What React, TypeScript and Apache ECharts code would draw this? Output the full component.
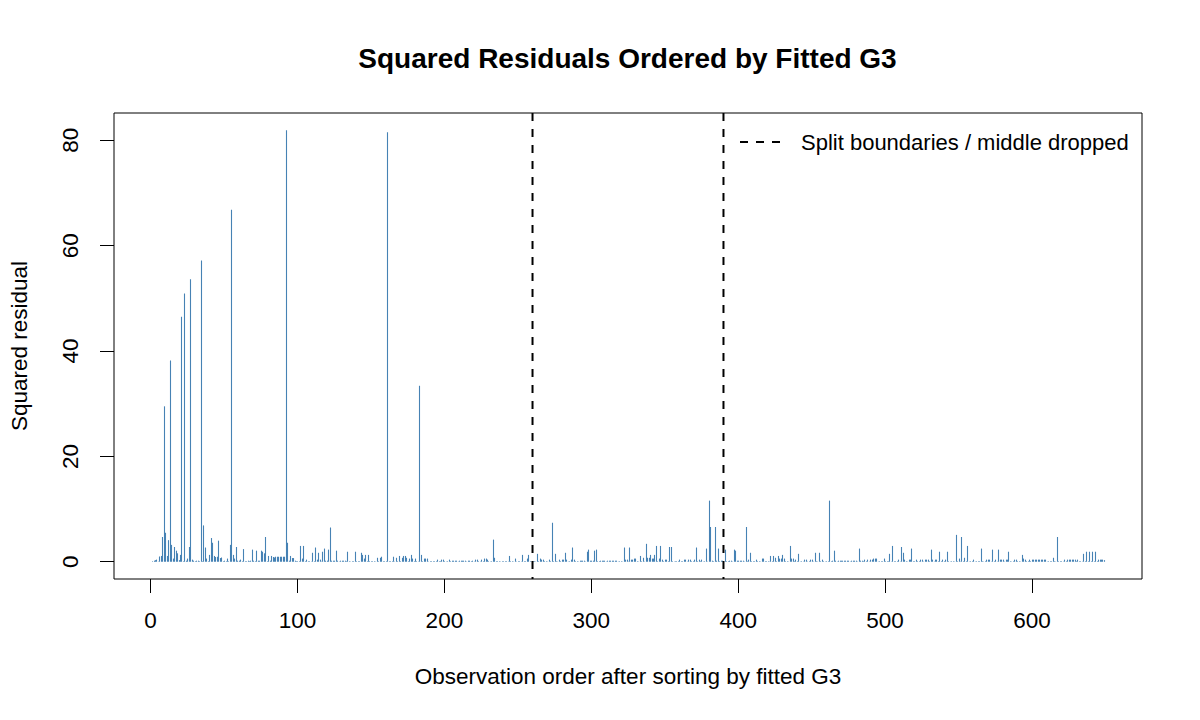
import React, { useEffect, useRef } from "react";
import * as echarts from "echarts";

// Squared residuals, in the order of the fitted G3 values (observations 1..649)
const squaredResiduals: number[] = [
  0.1, 0.2, 0.3, 0.4, 0.05, 1.0, 1.1, 4.7, 29.5, 5.5,
  1.1, 4.1, 38.2, 3.2, 0.6, 2.8, 2.1, 1.6, 0.3, 1.3,
  46.5, 0.1, 50.9, 0.2, 0.6, 2.8, 53.6, 0.4, 0.2, 0.1,
  0.2, 0.2, 0.1, 57.2, 0.1, 6.9, 2.7, 0.6, 0.1, 1.3,
  4.5, 3.6, 1.1, 0.9, 0.95, 4.0, 0.7, 0.8, 0.1, 0.2,
  0.1, 0.6, 0.1, 3.2, 66.8, 1.3, 0.6, 2.8, 0.2, 0.2,
  0.4, 0.1, 2.4, 0.1, 0.1, 0.2, 0.1, 0.2, 2.3, 0.2,
  0.1, 2.1, 0.2, 0.2, 2.1, 1.9, 1.6, 4.7, 0.1, 1.1,
  0.2, 1.1, 0.9, 0.8, 0.95, 0.95, 0.95, 0.95, 0.95, 0.95,
  0.95, 81.9, 3.6, 0.2, 1.1, 0.7, 0.7, 0.2, 0.1, 0.1,
  0.1, 3.0, 0.6, 3.0, 0.1, 0.4, 0.1, 0.1, 0.05, 1.7,
  0.1, 2.7, 0.4, 1.7, 0.4, 0.05, 1.9, 2.5, 0.2, 0.2,
  2.3, 6.5, 0.2, 0.2, 0.2, 2.1, 0.2, 0.05, 0.2, 0.2,
  0.2, 0.2, 0.1, 1.9, 0.1, 0.05, 0.1, 0.1, 1.9, 0.1,
  0.1, 0.1, 1.7, 1.3, 0.6, 1.3, 0.1, 1.3, 0.1, 0.1,
  0.1, 0.1, 0.05, 0.75, 0.1, 0.75, 0.95, 0.1, 0.1, 0.1,
  81.5, 0.1, 0.1, 0.1, 0.95, 0.05, 0.75, 0.1, 1.1, 0.1,
  0.75, 1.1, 1.1, 0.75, 0.1, 0.6, 1.3, 0.6, 0.1, 0.6,
  0.1, 0.05, 33.4, 1.3, 0.1, 0.6, 0.6, 0.6, 0.05, 0.1,
  0.1, 0.1, 0.1, 0.1, 0.4, 0.1, 0.1, 0.4, 0.4, 0.1,
  0.05, 0.1, 0.4, 0.1, 0.2, 0.2, 0.2, 0.2, 0.05, 0.2,
  0.2, 0.2, 0.2, 0.2, 0.05, 0.2, 0.2, 0.1, 0.2, 0.05,
  0.4, 0.4, 0.1, 0.05, 0.4, 0.1, 0.6, 0.6, 0.4, 0.1,
  0.05, 0.1, 4.2, 0.75, 0.1, 0.1, 0.1, 0.05, 0.1, 0.1,
  0.1, 0.1, 0.05, 1.1, 0.1, 0.1, 0.05, 0.6, 0.05, 0.1,
  0.1, 0.05, 1.3, 0.1, 0.1, 0.6, 1.3, 0.1, 0.05, 0.1,
  0.1, 0.05, 1.5, 0.1, 0.6, 0.4, 0.4, 0.1, 0.1, 0.05,
  0.4, 0.1, 7.4, 0.1, 1.5, 0.1, 0.05, 0.4, 0.1, 0.4,
  0.4, 1.7, 0.4, 0.05, 0.1, 0.4, 2.7, 0.4, 0.1, 0.1,
  0.05, 0.2, 0.2, 0.2, 0.2, 0.05, 1.9, 2.3, 0.2, 0.2,
  0.2, 2.1, 2.3, 0.1, 0.1, 0.2, 0.2, 0.2, 0.2, 0.05,
  0.2, 0.2, 0.2, 0.2, 0.2, 0.2, 0.2, 0.05, 0.1, 0.1,
  0.05, 2.7, 0.4, 0.4, 0.05, 2.7, 0.4, 0.4, 0.6, 0.6,
  0.1, 0.05, 1.1, 0.1, 0.75, 0.05, 3.4, 0.75, 0.75, 1.3,
  0.6, 0.6, 1.3, 3.0, 0.1, 0.6, 3.0, 0.4, 0.1, 0.4,
  0.4, 0.1, 2.8, 2.8, 0.1, 0.05, 0.1, 0.1, 0.1, 0.4,
  0.1, 0.1, 0.4, 0.4, 0.05, 0.4, 0.4, 0.1, 0.1, 0.4,
  2.7, 0.1, 0.4, 0.1, 0.4, 0.05, 0.1, 2.5, 0.05, 11.6,
  6.6, 0.2, 0.1, 6.6, 0.2, 2.5, 0.1, 0.2, 0.2, 0.05,
  2.3, 0.1, 0.1, 0.2, 0.2, 0.05, 2.3, 2.1, 0.2, 0.2,
  0.2, 0.2, 0.2, 0.05, 6.6, 0.1, 0.4, 1.7, 0.1, 0.1,
  0.1, 0.4, 0.1, 0.1, 0.05, 0.6, 0.6, 0.1, 0.1, 0.1,
  0.05, 1.1, 0.1, 1.1, 0.75, 0.1, 1.1, 0.6, 0.6, 1.3,
  0.6, 0.1, 0.1, 0.05, 3.0, 0.6, 0.6, 0.1, 0.4, 0.1,
  1.5, 0.05, 0.1, 0.05, 0.4, 0.4, 0.05, 0.1, 0.4, 0.4,
  0.05, 1.7, 0.1, 0.05, 1.7, 0.1, 0.4, 0.1, 0.05, 0.1,
  0.1, 11.6, 0.1, 0.2, 2.1, 0.2, 0.05, 0.2, 0.2, 0.2,
  0.2, 0.2, 0.2, 0.2, 0.2, 0.05, 0.2, 0.2, 0.2, 0.2,
  0.05, 2.5, 0.2, 0.2, 0.1, 0.4, 0.1, 0.4, 0.05, 0.4,
  0.4, 0.6, 0.6, 0.6, 0.05, 0.1, 0.1, 0.1, 0.6, 0.1,
  0.1, 0.1, 1.5, 0.05, 3.0, 0.1, 0.1, 0.1, 0.4, 0.05,
  2.8, 1.7, 0.4, 0.1, 0.05, 0.4, 0.4, 2.5, 0.1, 0.1,
  0.4, 0.1, 0.1, 0.4, 0.4, 0.05, 0.4, 0.4, 0.4, 0.1,
  2.3, 0.4, 0.05, 0.4, 0.4, 0.1, 1.9, 0.1, 0.4, 0.1,
  0.4, 1.9, 0.1, 0.05, 0.1, 0.1, 0.05, 5.1, 0.1, 0.6,
  0.05, 4.7, 0.1, 0.75, 0.1, 3.0, 0.05, 0.1, 0.1, 0.4,
  0.05, 0.1, 0.1, 0.1, 2.5, 0.1, 0.05, 0.1, 0.4, 0.4,
  0.4, 0.05, 2.3, 0.1, 0.4, 0.05, 2.3, 0.4, 0.4, 0.4,
  0.05, 0.4, 0.4, 1.9, 0.1, 0.05, 0.1, 0.4, 0.4, 0.1,
  0.1, 0.05, 1.3, 0.6, 0.4, 0.1, 0.1, 0.4, 0.1, 0.4,
  0.4, 0.4, 0.4, 0.4, 0.4, 0.4, 0.4, 0.4, 0.4, 0.05,
  0.1, 0.1, 0.1, 0.75, 0.1, 0.05, 4.7, 0.1, 0.1, 0.1,
  0.05, 0.4, 0.1, 0.4, 0.4, 0.4, 0.4, 0.4, 0.4, 0.1,
  0.4, 0.1, 0.1, 0.05, 1.5, 0.1, 1.9, 0.1, 1.9, 0.1,
  1.9, 0.1, 1.9, 0.1, 0.4, 0.4, 0.4, 0.4, 0.3,
];

// Observation positions where the sample is split (middle third dropped)
const splitBoundaries: number[] = [260, 390];

const xTicks: number[] = [0, 100, 200, 300, 400, 500, 600];
const yTicks: number[] = [0, 20, 40, 60, 80];

const chartTitle = "Squared Residuals Ordered by Fitted G3";
const xTitle = "Observation order after sorting by fitted G3";
const yTitle = "Squared residual";
const legendLabel = "Split boundaries / middle dropped";

const FONT = "'Liberation Sans', Arial, Helvetica, sans-serif";
const TEXT_SIZE = 22.5;
const LEGEND_SIZE = 22;
const TITLE_SIZE = 28;
const SPIKE_COLOR = "#4682B4";

export default function App() {
  const ref = useRef<HTMLDivElement | null>(null);

  useEffect(() => {
    if (!ref.current) return;
    const chart = echarts.init(ref.current, undefined, { renderer: "svg" });

    const n = squaredResiduals.length;
    const points = squaredResiduals.map((v, i) => [i + 1, v]);
    // base-graphics style 4% padding on both axes
    const xPad = (n - 1) * 0.04;
    const yMax = Math.max(...squaredResiduals);
    const yMin = 0;
    const yPad = (yMax - yMin) * 0.04;
    const yLo = yMin - yPad;
    const yHi = yMax + yPad;

    const gridLeft = 113;
    const gridTop = 113;
    const gridRight = 1142;
    const gridBottom = 579;

    chart.setOption({
      animation: false,
      backgroundColor: "#ffffff",
      grid: {
        left: gridLeft,
        top: gridTop,
        right: 1200 - gridRight,
        bottom: 720 - gridBottom,
        show: true,
        borderColor: "#000000",
        borderWidth: 1,
        backgroundColor: "transparent",
      },
      xAxis: {
        type: "value",
        min: 1 - xPad,
        max: n + xPad,
        name: xTitle,
        nameLocation: "middle",
        nameGap: 86,
        nameTextStyle: { fontFamily: FONT, fontSize: TEXT_SIZE, color: "#000" },
        axisLine: { show: false, onZero: false },
        splitLine: { show: false },
        axisTick: {
          show: true,
          inside: false,
          length: 14,
          customValues: xTicks,
          lineStyle: { color: "#000", width: 1 },
        },
        axisLabel: {
          customValues: xTicks,
          fontFamily: FONT,
          fontSize: TEXT_SIZE,
          color: "#000",
          margin: 30,
        },
      },
      yAxis: {
        type: "value",
        min: yLo,
        max: yHi,
        name: yTitle,
        nameLocation: "middle",
        nameGap: 83,
        nameRotate: 90,
        nameTextStyle: { fontFamily: FONT, fontSize: TEXT_SIZE, color: "#000" },
        axisLine: { show: false, onZero: false },
        splitLine: { show: false },
        axisTick: {
          show: true,
          inside: false,
          length: 14,
          customValues: yTicks,
          lineStyle: { color: "#000", width: 1 },
        },
        axisLabel: {
          customValues: yTicks,
          rotate: 90,
          fontFamily: FONT,
          fontSize: TEXT_SIZE,
          color: "#000",
          margin: 32,
        },
      },
      series: [
        {
          type: "custom",
          name: "residuals",
          data: points,
          clip: true,
          renderItem: (params: any, api: any) => {
            const x = api.value(0);
            const y = api.value(1);
            const p0 = api.coord([x, 0]);
            const p1 = api.coord([x, y]);
            const px = Math.round(p0[0]) + 0.5;
            return {
              type: "line",
              shape: { x1: px, y1: p0[1], x2: px, y2: p1[1] },
              style: { stroke: SPIKE_COLOR, lineWidth: 1.1 },
            };
          },
        },
        {
          type: "custom",
          name: "splits",
          data: splitBoundaries.map((b) => [b]),
          clip: true,
          renderItem: (params: any, api: any) => {
            const x = api.value(0);
            const top = api.coord([x, yHi]);
            const bottom = api.coord([x, yLo]);
            return {
              type: "line",
              shape: { x1: top[0], y1: top[1], x2: bottom[0], y2: bottom[1] },
              style: { stroke: "#000", lineWidth: 2, lineDash: [8, 8] },
            };
          },
        },
      ],
      graphic: [
        {
          type: "text",
          x: (gridLeft + gridRight) / 2,
          y: 58,
          style: {
            text: chartTitle,
            fontFamily: FONT,
            fontSize: TITLE_SIZE,
            fontWeight: "bold",
            fill: "#000",
            align: "center",
            verticalAlign: "middle",
          },
        },
        {
          type: "line",
          shape: { x1: 740, y1: 142, x2: 780, y2: 142 },
          style: { stroke: "#000", lineWidth: 2, lineDash: [8, 8] },
        },
        {
          type: "text",
          x: 801,
          y: 142,
          style: {
            text: legendLabel,
            fontFamily: FONT,
            fontSize: LEGEND_SIZE,
            fill: "#000",
            align: "left",
            verticalAlign: "middle",
          },
        },
      ],
    });

    return () => {
      chart.dispose();
    };
  }, []);

  return (
    <div
      ref={ref}
      style={{ position: "fixed", left: 0, top: 0, width: 1200, height: 720 }}
    />
  );
}
